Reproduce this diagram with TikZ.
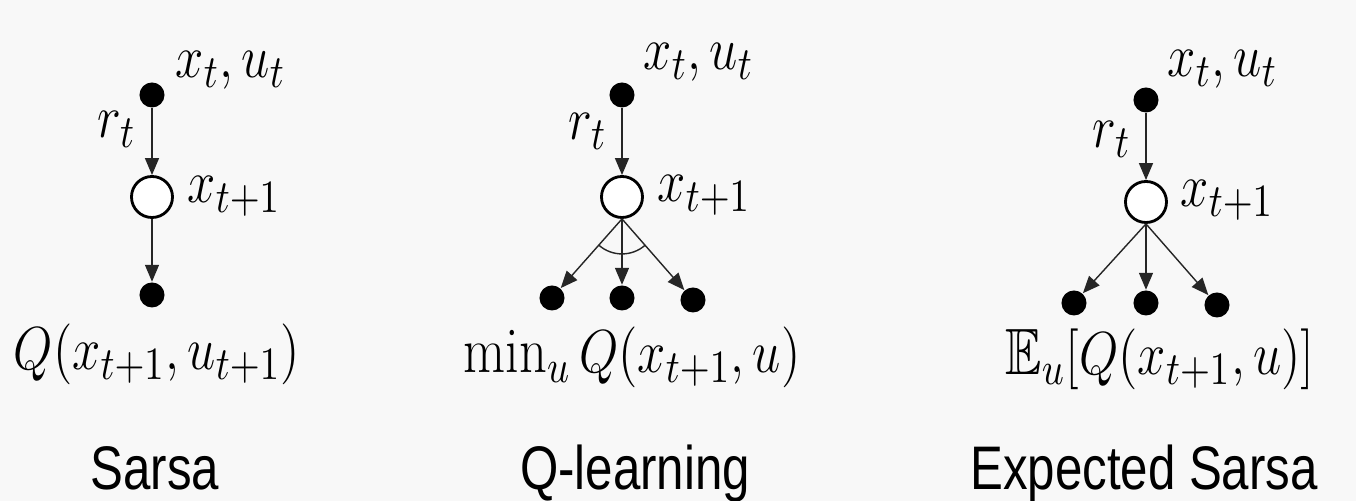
\documentclass[tikz,border=0pt]{standalone}
\usepackage{amsmath,amssymb}
\usepackage{fontspec}
\newfontfamily\capfont{Liberation Sans}
\usepackage{tikz}
\usetikzlibrary{arrows.meta,positioning}
\definecolor{paper}{RGB}{248,248,248}

\begin{document}
\begin{tikzpicture}[x=0.01cm, y=0.01cm,
  full/.style={circle, fill=black, inner sep=0pt, minimum size=0.25cm},
  hollow/.style={circle, draw=black, line width=0.8pt, fill=white, inner sep=0pt, minimum size=0.41cm},
  arr/.style={-{Triangle[length=1.7mm, width=1.4mm]}, thin, draw=black!85},
  mlab/.style={inner sep=0pt, anchor=base west, font=\fontsize{15.5}{18}\selectfont, yscale=1.2},
  blab/.style={mlab, anchor=base},
  capt/.style={inner sep=0pt, anchor=base, font=\capfont\fontsize{14}{17}\selectfont, yscale=1.25}]
\useasboundingbox (0,0) rectangle (1356,501);
\fill[paper] (0,0) rectangle (1356,501);
% Sarsa
\node[full]   (s0) at (152,406) {};
\node[hollow] (s1) at (152,304) {};
\node[full]   (s2) at (152,206) {};
\node[mlab] (sxu) at (175,423) {$x_t, u_t$};
\node[mlab] (sr)  at (97,363)  {$r_t$};
\node[mlab] (sx)  at (187,298) {$x_{t+1}$};
\node[blab] (sq)  at (157,131) {$Q(x_{t+1}, u_{t+1})$};
\node[capt] (st)  at (155,11)  {Sarsa};
\draw[arr] (s0) -- (s1);
\draw[arr] (s1) -- (s2);
% Q-learning
\node[full]   (q0) at (622,406) {};
\node[hollow] (q1) at (622,304) {};
\node[full]   (qa) at (552,203) {};
\node[full]   (qb) at (622,203) {};
\node[full]   (qc) at (693,201) {};
\node[mlab] (qxu) at (643,431) {$x_t, u_t$};
\node[mlab] (qr)  at (568,361) {$r_t$};
\node[mlab] (qx)  at (657,299) {$x_{t+1}$};
\node[blab] (qq)  at (632,128) {$\min_u Q(x_{t+1}, u)$};
\node[capt] (qt)  at (635,11)  {Q-learning};
\draw[arr] (q0) -- (q1);
\foreach \n in {qa,qb,qc}
  \draw[arr] (q1.south) -- (\n);
\draw[thin, black!85] ([shift={(229:0.35cm)}]q1.south) arc[start angle=229, end angle=311, radius=0.35cm];
% Expected Sarsa
\node[full]   (e0) at (1146,401) {};
\node[hollow] (e1) at (1146,299) {};
\node[full]   (ea) at (1074,198) {};
\node[full]   (eb) at (1146,198) {};
\node[full]   (ec) at (1217,196) {};
\node[mlab] (exu) at (1167,424) {$x_t, u_t$};
\node[mlab] (er)  at (1092,353) {$r_t$};
\node[mlab] (ex)  at (1180,294) {$x_{t+1}$};
\node[blab] (eq)  at (1160,126) {$\mathbb{E}_u[Q(x_{t+1}, u)]$};
\node[capt] (et)  at (1144,11)  {Expected Sarsa};
\draw[arr] (e0) -- (e1);
\foreach \n in {ea,eb,ec}
  \draw[arr] (e1.south) -- (\n);
\end{tikzpicture}
\end{document}
